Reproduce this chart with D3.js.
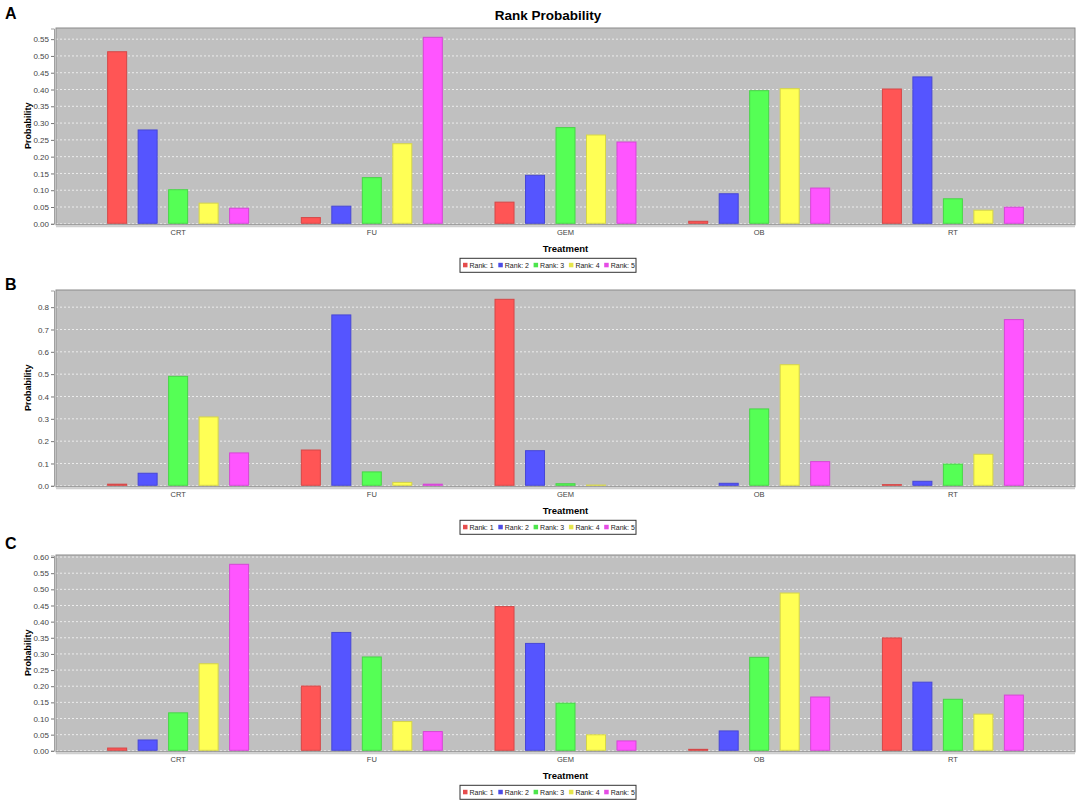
<!DOCTYPE html>
<html>
<head>
<meta charset="utf-8">
<script src="https://cdnjs.cloudflare.com/ajax/libs/d3/7.8.5/d3.min.js"></script>
<style>
  body { margin: 0; background: #fff; }
  text { font-family: "Liberation Sans", Arial, sans-serif; }
</style>
</head>
<body>
<div id="chart"></div>
<script>
// categories and series
var treatments = ["CRT", "FU", "GEM", "OB", "RT"];
var ranks = ["Rank: 1", "Rank: 2", "Rank: 3", "Rank: 4", "Rank: 5"];
var rankColors = ["#FF5555", "#5555FF", "#55FF55", "#FFFF55", "#FF55FF"];

// probability of each rank, one row per treatment (CRT, FU, GEM, OB, RT)
var valuesA = [
  [0.511, 0.278, 0.100, 0.060, 0.045],
  [0.017, 0.051, 0.136, 0.237, 0.554],
  [0.063, 0.143, 0.285, 0.263, 0.242],
  [0.006, 0.088, 0.395, 0.401, 0.105],
  [0.400, 0.436, 0.073, 0.039, 0.048]
];
var valuesB = [
  [0.005, 0.054, 0.488, 0.306, 0.145],
  [0.158, 0.763, 0.060, 0.013, 0.005],
  [0.833, 0.155, 0.007, 0.001, 0.000],
  [0.000, 0.009, 0.342, 0.540, 0.106],
  [0.003, 0.018, 0.095, 0.139, 0.742]
];
var valuesC = [
  [0.007, 0.032, 0.116, 0.268, 0.576],
  [0.199, 0.365, 0.289, 0.089, 0.058],
  [0.445, 0.331, 0.146, 0.048, 0.029],
  [0.003, 0.060, 0.288, 0.487, 0.165],
  [0.348, 0.211, 0.158, 0.112, 0.171]
];

// y tick values per panel
var ticksA = [0, 0.05, 0.10, 0.15, 0.20, 0.25, 0.30, 0.35, 0.40, 0.45, 0.50, 0.55];
var ticksB = [0, 0.1, 0.2, 0.3, 0.4, 0.5, 0.6, 0.7, 0.8];
var ticksC = [0, 0.05, 0.10, 0.15, 0.20, 0.25, 0.30, 0.35, 0.40, 0.45, 0.50, 0.55, 0.60];

var width = 1084, height = 807;
var plotLeft = 56, plotRight = 1075, plotH = 195.3;

var svg = d3.select("#chart")
  .append("svg")
    .attr("width", width)
    .attr("height", height);

// main title
svg.append("text")
    .attr("x", 548)
    .attr("y", 20)
    .attr("text-anchor", "middle")
    .style("font-size", "13.5px")
    .style("font-weight", "bold")
    .text("Rank Probability");

// x scales shared by all panels
var x0 = d3.scaleBand()
    .domain(treatments)
    .range([plotLeft, plotRight])
    .paddingInner(0.267)
    .paddingOuter(0.264);

var x1 = d3.scaleBand()
    .domain(ranks)
    .range([0, x0.bandwidth()])
    .paddingInner(0.344)
    .paddingOuter(0);

var panels = [
  {letter: "A", top: 28, letterY: 19, values: valuesA, ticks: ticksA, fmt: ".2f"},
  {letter: "B", top: 290, letterY: 290, values: valuesB, ticks: ticksB, fmt: ".1f"},
  {letter: "C", top: 555, letterY: 549, values: valuesC, ticks: ticksC, fmt: ".2f"}
];

panels.forEach(drawPanel);

function drawPanel(p) {
  var zero = p.top + plotH;
  var ymax = d3.max(p.values, function(r) { return d3.max(r); }) * 1.05;

  var y = d3.scaleLinear()
      .domain([0, ymax])
      .range([zero, p.top]);

  var g = svg.append("g");

  // panel letter
  g.append("text")
      .attr("x", 5)
      .attr("y", p.letterY)
      .style("font-size", "16px")
      .style("font-weight", "bold")
      .text(p.letter);

  // plot background
  g.append("rect")
      .attr("x", plotLeft)
      .attr("y", p.top)
      .attr("width", plotRight - plotLeft)
      .attr("height", plotH + 1.5)
      .attr("fill", "#C0C0C0");

  // gridlines
  g.selectAll(".grid")
    .data(p.ticks)
    .enter().append("line")
      .attr("x1", plotLeft)
      .attr("x2", plotRight)
      .attr("y1", function(d) { return y(d) + 0.5; })
      .attr("y2", function(d) { return y(d) + 0.5; })
      .attr("stroke", "#ececec")
      .attr("stroke-width", 1)
      .attr("stroke-dasharray", "2,2");

  // bars
  var groups = g.selectAll(".grp")
    .data(treatments)
    .enter().append("g")
      .attr("transform", function(d) { return "translate(" + x0(d) + ",0)"; });

  groups.selectAll("rect")
    .data(function(d, i) {
      return p.values[i].map(function(v, j) { return {rank: ranks[j], value: v, color: rankColors[j]}; });
    })
    .enter().append("rect")
      .attr("x", function(d) { return x1(d.rank) + 0.5; })
      .attr("y", function(d) { return y(d.value); })
      .attr("width", x1.bandwidth() - 1)
      .attr("height", function(d) { return zero - y(d.value); })
      .attr("fill", function(d) { return d.color; })
      .attr("stroke", function(d) { return d3.color(d.color).darker(0.5); })
      .attr("stroke-width", function(d) { return d.value > 0 ? 1 : 0; });

  // plot outline
  g.append("rect")
      .attr("x", plotLeft)
      .attr("y", p.top)
      .attr("width", plotRight - plotLeft)
      .attr("height", plotH + 1.5)
      .attr("fill", "none")
      .attr("stroke", "#8a8a8a")
      .attr("stroke-width", 1);

  // bottom axis line
  g.append("line")
      .attr("x1", plotLeft)
      .attr("x2", plotRight)
      .attr("y1", zero + 3)
      .attr("y2", zero + 3)
      .attr("stroke", "#cfcfcf")
      .attr("stroke-width", 2);

  // y axis
  var yAxis = d3.axisLeft(y)
      .tickValues(p.ticks)
      .tickFormat(d3.format(p.fmt))
      .tickSize(3)
      .tickPadding(2);

  var ya = g.append("g")
      .attr("transform", "translate(" + (plotLeft - 2) + ",0.5)")
      .call(yAxis);
  ya.select(".domain").attr("stroke", "#a0a0a0");
  ya.selectAll(".tick line").attr("stroke", "#777");
  ya.selectAll(".tick text")
      .attr("fill", "#444")
      .style("font-size", "8px")
      .style("font-family", "\"Liberation Sans\", Arial, sans-serif");

  // y axis label
  g.append("text")
      .attr("transform", "translate(31," + (p.top + plotH / 2) + ") rotate(-90)")
      .attr("text-anchor", "middle")
      .style("font-size", "9px")
      .style("font-weight", "bold")
      .text("Probability");

  // category labels
  var xAxis = d3.axisBottom(x0)
      .tickSize(0)
      .tickPadding(0);

  var xa = g.append("g")
      .attr("transform", "translate(0," + (zero + 6) + ")")
      .call(xAxis);
  xa.select(".domain").remove();
  xa.selectAll(".tick text")
      .attr("fill", "#444")
      .style("font-size", "7.5px")
      .style("font-family", "\"Liberation Sans\", Arial, sans-serif");

  // x axis label
  g.append("text")
      .attr("x", (plotLeft + plotRight) / 2)
      .attr("y", zero + 28.5)
      .attr("text-anchor", "middle")
      .style("font-size", "9.5px")
      .style("font-weight", "bold")
      .text("Treatment");

  // legend
  var lg = g.append("g")
      .attr("transform", "translate(460," + (zero + 35) + ")");

  lg.append("rect")
      .attr("width", 176)
      .attr("height", 14)
      .attr("fill", "#fff")
      .attr("stroke", "#333")
      .attr("stroke-width", 1);

  var items = lg.selectAll(".item")
    .data(ranks)
    .enter().append("g")
      .attr("transform", function(d, i) { return "translate(" + (3 + i * 35.3) + ",7)"; });

  items.append("rect")
      .attr("x", 0)
      .attr("y", -2.5)
      .attr("width", 4.5)
      .attr("height", 4.5)
      .attr("fill", function(d, i) { return d3.color(rankColors[i]).darker(0.3); });

  items.append("text")
      .attr("x", 6.5)
      .attr("y", 2.6)
      .style("font-size", "7px")
      .attr("fill", "#222")
      .text(function(d) { return d; });
}
</script>
</body>
</html>
